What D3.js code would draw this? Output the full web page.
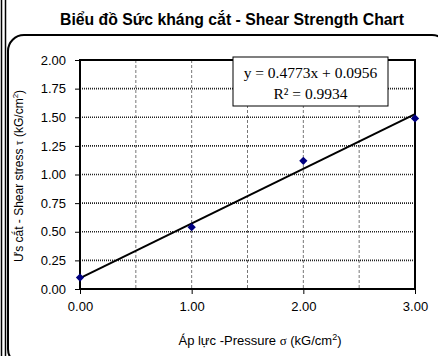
<!DOCTYPE html>
<html><head><meta charset="utf-8">
<script src="https://cdn.jsdelivr.net/npm/d3@7"></script>
<style>html,body{margin:0;padding:0;background:#fff;}svg{display:block;}</style>
</head><body>
<svg id="c" width="438" height="356"></svg>
<script>
const pressure = [0, 1, 2, 3];
const shear = [0.10, 0.54, 1.12, 1.49];
const xTicks = [0, 1, 2, 3];
const xGrid = [0.5, 1, 1.5, 2, 2.5];
const yTicks = [0, 0.25, 0.5, 0.75, 1.0, 1.25, 1.5, 1.75, 2.0];
const trendSlope = [0.4773];
const trendIntercept = [0.0956];
const rSquared = [0.9934];

const svg = d3.select("#c");
const x = d3.scaleLinear().domain([0, 3]).range([80, 415]);
const y = d3.scaleLinear().domain([0, 2]).range([289, 60]);

// frame
svg.append("line").attr("x1",1.5).attr("x2",1.5).attr("y1",0).attr("y2",356).attr("stroke","#000").attr("stroke-width",1.5);
svg.append("line").attr("x1",5.5).attr("x2",5.5).attr("y1",0).attr("y2",356).attr("stroke","#000").attr("stroke-width",1.5);
svg.append("rect").attr("x",8).attr("y",35).attr("width",440).attr("height",330).attr("rx",16).attr("ry",16)
  .attr("fill","none").attr("stroke","#000").attr("stroke-width",2);

// title
svg.append("text").attr("x",232).attr("y",25).attr("text-anchor","middle")
  .attr("font-family","'Liberation Sans Narrow','Arial Narrow','Liberation Sans',sans-serif")
  .attr("font-weight","bold").attr("font-size",17)
  .attr("textLength",344).attr("lengthAdjust","spacingAndGlyphs")
  .text("Biểu đồ Sức kháng cắt - Shear Strength Chart");

// grid
svg.append("g").selectAll("line").data(xGrid).join("line")
  .attr("x1",d=>x(d)).attr("x2",d=>x(d)).attr("y1",y(2)).attr("y2",y(0))
  .attr("stroke","#777").attr("stroke-width",1).attr("stroke-dasharray","3,2");
svg.append("g").selectAll("line").data(yTicks.filter(d=>d>0)).join("line")
  .attr("x1",x(0)).attr("x2",x(3)).attr("y1",d=>y(d)).attr("y2",d=>y(d))
  .attr("stroke","#222").attr("stroke-width",1.6).attr("stroke-dasharray","1,1");

// plot border
svg.append("rect").attr("x",x(0)).attr("y",y(2)).attr("width",x(3)-x(0)).attr("height",y(0)-y(2))
  .attr("fill","none").attr("stroke","#000").attr("stroke-width",2);

// axes
const yAxis = svg.append("g").attr("transform",`translate(${x(0)},0)`)
  .call(d3.axisLeft(y).tickValues(yTicks).tickFormat(d3.format(".2f")).tickSize(5).tickPadding(9));
const xAxis = svg.append("g").attr("transform",`translate(0,${y(0)})`)
  .call(d3.axisBottom(x).tickValues(xTicks).tickFormat(d3.format(".2f")).tickSize(5).tickPadding(8));
[yAxis,xAxis].forEach(a=>{
  a.select(".domain").remove();
  a.selectAll("line").attr("stroke","#000").attr("stroke-width",1);
  a.selectAll("text").attr("font-family","'Liberation Sans',Arial,sans-serif").attr("font-size",13).attr("fill","#000");
});

// trendline
const tx = [0, 3];
svg.append("line")
  .attr("x1",x(tx[0])).attr("y1",y(trendSlope[0]*tx[0]+trendIntercept[0]))
  .attr("x2",x(tx[1])).attr("y2",y(trendSlope[0]*tx[1]+trendIntercept[0]))
  .attr("stroke","#000").attr("stroke-width",2);

// points
svg.append("g").selectAll("path").data(pressure.map((p,i)=>[p,shear[i]])).join("path")
  .attr("d",d3.symbol().type(d3.symbolSquare).size(34))
  .attr("transform",d=>`translate(${x(d[0])},${y(d[1])}) rotate(45)`)
  .attr("fill","#000080");

// equation box
const bx = 233, by = 57;
svg.append("rect").attr("x",bx).attr("y",by).attr("width",155).attr("height",49)
  .attr("fill","#fff").attr("stroke","#000").attr("stroke-width",1);
svg.append("text").attr("x",bx+77.5).attr("y",by+21).attr("text-anchor","middle")
  .attr("font-family","'Liberation Serif','Times New Roman',serif").attr("font-size",15.5)
  .text(`y = ${trendSlope[0]}x + ${trendIntercept[0]}`);
svg.append("text").attr("x",bx+77.5).attr("y",by+42).attr("text-anchor","middle")
  .attr("font-family","'Liberation Serif','Times New Roman',serif").attr("font-size",15.5)
  .text(`R² = ${rSquared[0]}`);

// x title
const xt = svg.append("text").attr("x",260).attr("y",345).attr("text-anchor","middle")
  .attr("font-family","'Liberation Sans',Arial,sans-serif").attr("font-size",13);
xt.append("tspan").text("Áp lực -Pressure ");
xt.append("tspan").attr("font-family","'Liberation Serif',serif").text("σ");
xt.append("tspan").text(" (kG/cm");
xt.append("tspan").attr("font-size",9).attr("dy",-5).text("2");
xt.append("tspan").attr("dy",5).text(")");

// y title
const yt = svg.append("text").attr("transform","translate(23,176) rotate(-90)").attr("text-anchor","middle")
  .attr("font-family","'Liberation Sans',Arial,sans-serif").attr("font-size",12);
yt.append("tspan").text("Ưs cắt - Shear stress ");
yt.append("tspan").attr("font-family","'Liberation Serif',serif").text("τ");
yt.append("tspan").text(" (kG/cm");
yt.append("tspan").attr("font-size",8).attr("dy",-5).text("2");
yt.append("tspan").attr("dy",5).text(")");
</script>
</body></html>
